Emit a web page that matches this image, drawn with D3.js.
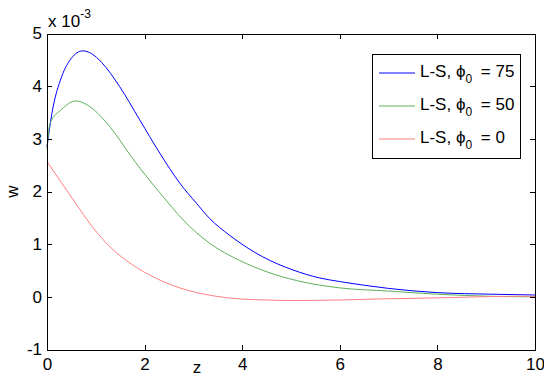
<!DOCTYPE html>
<html lang="en">
<head>
    <meta charset="UTF-8">
    <title>w vs z</title>
    <script src="https://d3js.org/d3.v7.min.js"></script>
    <style>
        body { margin: 0; background: #fff; }
        svg { font-family: "Liberation Sans", Arial, sans-serif; }
        .axis path, .axis line { stroke: #000; shape-rendering: crispEdges; }
        .axis text { font-size: 17px; fill: #000; }
    </style>
</head>
<body>
    <svg id="chart" width="544" height="376"></svg>

    <script>
        // values, w in units of 1e-3
        const zBlue = [0, 0.1, 0.3, 0.5, 0.73, 0.91, 1.12, 1.49, 1.9, 2.31, 2.72, 3.06, 3.33, 3.74, 4.42, 5.04, 5.58, 6.0, 6.5, 7.0, 8.0, 9.1, 10];
        const wBlue = [2.85, 3.48, 4.18, 4.53, 4.67, 4.62, 4.45, 3.99, 3.36, 2.73, 2.16, 1.78, 1.49, 1.17, 0.76, 0.51, 0.36, 0.29, 0.22, 0.16, 0.08, 0.05, 0.035];

        const zGreen = [0, 0.06, 0.3, 0.59, 0.88, 1.12, 1.49, 1.63, 2.0, 2.38, 2.79, 3.33, 3.95, 4.49, 5.11, 6.0, 7.0, 8.0, 9.1, 10];
        const wGreen = [2.8, 3.29, 3.56, 3.72, 3.61, 3.41, 2.98, 2.79, 2.33, 1.9, 1.46, 1.02, 0.69, 0.48, 0.31, 0.17, 0.11, 0.05, 0.01, 0.0];

        const zRed = [0, 0.54, 0.98, 1.29, 1.7, 2.24, 2.72, 3.4, 3.95, 4.5, 5.0, 6.0, 6.8, 8.0, 9.5, 10];
        const wRed = [2.57, 1.84, 1.27, 0.95, 0.64, 0.35, 0.17, 0.02, -0.04, -0.06, -0.07, -0.06, -0.04, -0.02, 0.01, 0.01];

        const xTicks = [0, 2, 4, 6, 8, 10];
        const yTicks = [-1, 0, 1, 2, 3, 4, 5];

        const series = [
            { phi: "75", z: zBlue, w: wBlue, color: "#0000ff" },
            { phi: "50", z: zGreen, w: wGreen, color: "#5cb05c" },
            { phi: "0", z: zRed, w: wRed, color: "#ff8080" }
        ];

        const plotLeft = 47, plotRight = 535, plotTop = 33.5, plotBottom = 349.5;

        const x = d3.scaleLinear().domain([0, 10]).range([plotLeft, plotRight]);
        const y = d3.scaleLinear().domain([-1, 5]).range([plotBottom, plotTop]);

        const svg = d3.select("#chart");

        // curves
        const line = d3.line()
            .x(d => x(d[0]))
            .y(d => y(d[1]))
            .curve(d3.curveMonotoneX);

        series.forEach(s => {
            svg.append("path")
                .datum(d3.zip(s.z, s.w))
                .attr("d", line)
                .attr("fill", "none")
                .attr("stroke", s.color)
                .attr("stroke-width", 1);
        });

        // box axes, ticks pointing inward
        svg.append("g")
            .attr("class", "axis")
            .attr("transform", `translate(0,${plotBottom})`)
            .call(d3.axisBottom(x).tickValues(xTicks).tickFormat(d => d).tickSizeInner(-5).tickSizeOuter(0).tickPadding(8));

        svg.append("g")
            .attr("class", "axis")
            .attr("transform", `translate(0,${plotTop})`)
            .call(d3.axisTop(x).tickValues(xTicks).tickSizeInner(-5).tickSizeOuter(0).tickFormat(""));

        svg.append("g")
            .attr("class", "axis")
            .attr("transform", `translate(${plotLeft},0)`)
            .call(d3.axisLeft(y).tickValues(yTicks).tickFormat(d => d).tickSizeInner(-5).tickSizeOuter(0).tickPadding(5));

        svg.append("g")
            .attr("class", "axis")
            .attr("transform", `translate(${plotRight},0)`)
            .call(d3.axisRight(y).tickValues(yTicks).tickSizeInner(-5).tickSizeOuter(0).tickFormat(""));

        // exponent label
        const expo = svg.append("text")
            .attr("x", plotLeft + 1)
            .attr("y", 27)
            .attr("font-size", 17);
        expo.append("tspan").text("x 10");
        expo.append("tspan").attr("dy", -9).attr("font-size", 12).text("-3");

        // axis labels
        svg.append("text")
            .attr("x", 197)
            .attr("y", 373)
            .attr("text-anchor", "middle")
            .attr("font-size", 17)
            .text("z");

        svg.append("text")
            .attr("transform", `translate(18,${(plotTop + plotBottom) / 2}) rotate(-90)`)
            .attr("text-anchor", "middle")
            .attr("font-size", 17)
            .text("w");

        // legend
        const legend = svg.append("g");
        legend.append("rect")
            .attr("x", 372.5).attr("y", 54.5)
            .attr("width", 148).attr("height", 104)
            .attr("fill", "#fff")
            .attr("stroke", "#000");

        series.forEach((s, i) => {
            const ly = 73 + i * 33;
            legend.append("line")
                .attr("x1", 379).attr("x2", 415)
                .attr("y1", ly).attr("y2", ly)
                .attr("stroke", s.color);
            const t = legend.append("text")
                .attr("x", 420)
                .attr("y", ly + 3.5)
                .attr("font-size", 17);
            t.append("tspan").text("L-S,  \u03d5");
            t.append("tspan").attr("dy", 6).attr("font-size", 12).text("0");
            t.append("tspan").attr("dy", -6).attr("dx", 4).text(" = " + s.phi);
        });
    </script>
</body>
</html>
